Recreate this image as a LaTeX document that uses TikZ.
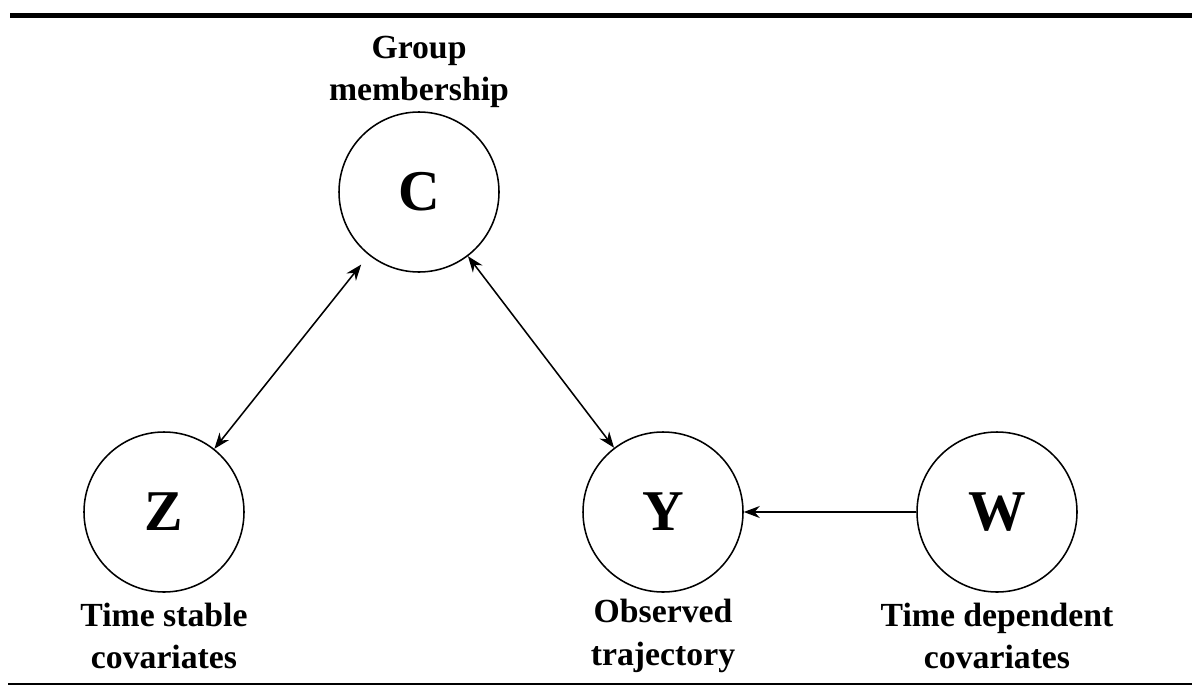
\documentclass[tikz,border=0pt]{standalone}
\usepackage{fontspec}
\setmainfont{Liberation Serif}
\usetikzlibrary{arrows.meta}

\tikzset{
  var/.style={draw,circle,minimum size=4cm,inner sep=0pt,line width=1.1pt,
    font=\fontsize{41}{41}\selectfont\bfseries},
  lab/.style={align=center,font=\fontsize{24}{30}\selectfont\bfseries},
  tip/.style={Stealth[length=4mm,width=3mm]},
  link/.style={line width=1.1pt}
}

\begin{document}
\begin{tikzpicture}
  \useasboundingbox (0,0) rectangle (29.8,-17.15);
  % rules
  \draw[line width=3.5pt] (0.25,-0.39) -- (29.8,-0.39);
  \draw[line width=1.2pt] (0.2,-17.1) -- (29.8,-17.1);

  \node[var] (C) at (10.475,-4.8) {C};
  \node[var] (Z) at (4.1,-12.8) {Z};
  \node[var,right of=Z,xshift=11.475cm] (Y) {Y};
  \node[var,right of=Y,xshift=7.35cm] (W) {W};

  \node[lab,above of=C,yshift=2.0cm] (Clab) {Group\\membership};
  \node[lab,below of=Z,yshift=-2.1cm] (Zlab) {Time stable\\covariates};
  \node[lab,below of=Y,yshift=-2.1cm] (Ylab) {Observed\\trajectory};
  \node[lab,below of=W,yshift=-2.1cm] (Wlab) {Time dependent\\covariates};

  \draw[link,{Stealth[length=4mm,width=3mm]}-{Stealth[length=4mm,width=3mm]},shorten <=0.3cm] (C) -- (Z);
  \draw[link,{Stealth[length=4mm,width=3mm]}-{Stealth[length=4mm,width=3mm]}] (C) -- (Y);
  \draw[link,-{Stealth[length=4mm,width=3mm]}] (W) -- (Y);
\end{tikzpicture}
\end{document}
